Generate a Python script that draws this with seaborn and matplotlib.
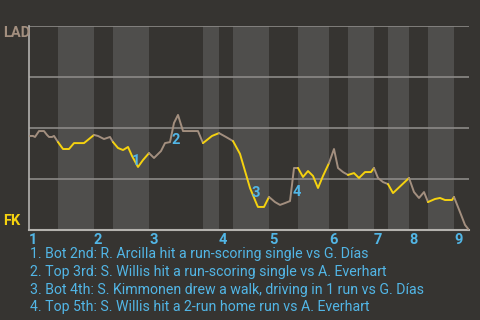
import matplotlib
matplotlib.use("Agg")
import matplotlib.pyplot as plt
import numpy as np
import pandas as pd
import seaborn as sns

# ---- data ----
team_top = "LAD"
team_bottom = "FK"

# half-inning start positions (game progress units), last value = game end
half_bounds = [0, 5.8, 13, 16.8, 24, 34.8, 38, 40.8, 48, 53.8, 60, 63.8,
               69, 71.8, 76, 79.8, 85, 88]
inning_labels = ["1", "2", "3", "4", "5", "6", "7", "8", "9"]

# LAD win probability through the game
prog = [0, 0.8, 1.2, 2, 3, 3.6, 4, 4.6, 5, 5.8,
        6.8, 8, 9, 11, 13,
        13.8, 15, 16.2, 16.8,
        17.8, 18.8, 19.8, 20.6, 21.8, 22.8, 24,
        25, 26.4, 27.2, 28.2, 29, 29.8, 30.8, 33.8, 34.8,
        36.6, 38,
        39.4, 40.8,
        42.2, 44.2, 45.6, 45.8, 47, 48,
        49.2, 50.2, 51.2, 52.2, 52.6, 53, 53.8,
        54.8, 55.8, 56.8, 57.8, 58.8, 60,
        61, 61.8, 62.8, 63.8,
        65, 66, 67.2, 68.4, 69,
        69.8, 70.8, 71.8,
        72.8, 76,
        77, 78, 79, 79.8,
        81.2, 82.2, 83.2, 84.6, 85,
        86.2, 87.2, 88]
win_prob = [0.461, 0.461, 0.456, 0.485, 0.485, 0.466, 0.456, 0.456, 0.461, 0.431,
            0.397, 0.397, 0.426, 0.426, 0.466,
            0.461, 0.446, 0.456, 0.431,
            0.402, 0.392, 0.407, 0.363, 0.309, 0.343, 0.377,
            0.353, 0.387, 0.426, 0.431, 0.525, 0.564, 0.485, 0.485, 0.426,
            0.461, 0.475,
            0.456, 0.436,
            0.373, 0.206, 0.123, 0.113, 0.113, 0.162,
            0.137, 0.123, 0.132, 0.142, 0.221, 0.304, 0.304,
            0.260, 0.289, 0.265, 0.206, 0.265, 0.328,
            0.397, 0.304, 0.284, 0.270,
            0.279, 0.255, 0.284, 0.284, 0.304,
            0.255, 0.235, 0.225,
            0.181, 0.255,
            0.186, 0.157, 0.186, 0.137,
            0.152, 0.157, 0.147, 0.147, 0.162,
            0.088, 0.025, 0.0]

event_labels = ["1", "2", "3", "4"]
event_prog = [21.4, 29.4, 45.4, 53.6]
event_wp = [0.338, 0.441, 0.181, 0.186]
event_texts = [
    "1. Bot 2nd: R. Arcilla hit a run-scoring single vs G. Días",
    "2. Top 3rd: S. Willis hit a run-scoring single vs A. Everhart",
    "3. Bot 4th: S. Kimmonen drew a walk, driving in 1 run vs G. Días",
    "4. Top 5th: S. Willis hit a 2-run home run vs A. Everhart",
]

# ---- style ----
BG = "#363431"
BAND = "#4f4e4c"
GRID = "#8c8a87"
AXIS = "#b4b2ae"
TAN = "#a38f7f"
YEL = "#f5d20f"
BLUE = "#52b6e6"

sns.set_theme(style="dark", rc={"axes.facecolor": BG, "figure.facecolor": BG})
plt.rcParams["font.family"] = ["Roboto", "DejaVu Sans"]

fig = plt.figure(figsize=(4.8, 3.2), dpi=100)
ax = fig.add_axes([29 / 480, 90 / 320, 440 / 480, 204 / 320])
ax.set_facecolor(BG)

# bands for bottom halves
for i in range(len(half_bounds) - 1):
    if i % 2 == 1:
        ax.axvspan(half_bounds[i], half_bounds[i + 1], color=BAND, lw=0, zorder=0)

# segments by half inning
rows = []
px = np.array(prog)
pw = np.array(win_prob)
for i in range(len(half_bounds) - 1):
    m = (px >= half_bounds[i] - 1e-9) & (px <= half_bounds[i + 1] + 1e-9)
    for a, b in zip(px[m], pw[m]):
        rows.append({"x": a, "wp": b, "half": i})
df = pd.DataFrame(rows)
pal = {i: (TAN if i % 2 == 0 else YEL) for i in range(len(half_bounds) - 1)}
sns.lineplot(data=df, x="x", y="wp", hue="half", palette=pal, estimator=None,
             sort=False, legend=False, linewidth=1.4, ax=ax, zorder=3)

ax.set_xlim(half_bounds[0], half_bounds[-1])
ax.set_ylim(0, 1)
ax.set_yticks([0.25, 0.5, 0.75, 1.0])
ax.set_yticklabels([])
ax.tick_params(axis="y", length=0)
ax.grid(axis="y", color=GRID, lw=1.2)
ax.grid(axis="x", visible=False)
ax.set_axisbelow(True)
for g in ax.get_ygridlines():
    g.set_zorder(1)

ax.set_xticks(half_bounds[0:-1:2])
ax.set_xticklabels(inning_labels, ha="left", color=BLUE, fontsize=10.5,
                   fontweight="bold")
ax.tick_params(axis="x", length=0, pad=2)
ax.set_xlabel("")
ax.set_ylabel("")

for s in ["top", "right"]:
    ax.spines[s].set_visible(False)
ax.spines["left"].set_color(AXIS)
ax.spines["bottom"].set_color(AXIS)
ax.spines["left"].set_linewidth(1.2)
ax.spines["bottom"].set_linewidth(1.5)

fig.text(3 / 480, 1 - 33 / 320, team_top, color=TAN, fontsize=10.5,
         fontweight="bold", va="center", ha="left")
fig.text(3 / 480, 1 - 221 / 320, team_bottom, color=YEL, fontsize=10.5,
         fontweight="bold", va="center", ha="left")

for lab, ex, ey in zip(event_labels, event_prog, event_wp):
    ax.text(ex, ey, lab, color=BLUE, fontsize=10.5, fontweight="bold",
            ha="center", va="center", zorder=4)

for k, t in enumerate(event_texts):
    fig.text(30 / 480, 1 - (254 + 17.8 * k) / 320, t, color=BLUE, fontsize=10.2,
             va="center", ha="left")

fig.savefig("out.png", dpi=100, facecolor=BG)
